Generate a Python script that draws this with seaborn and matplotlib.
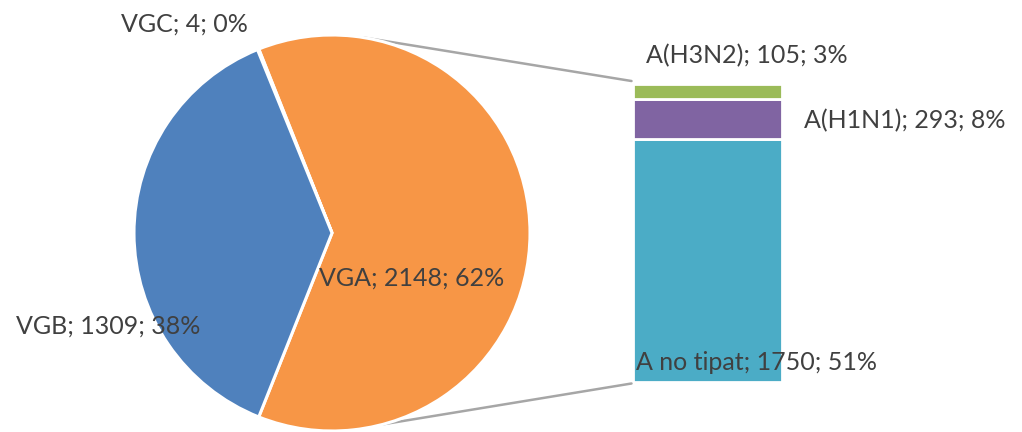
import numpy as np
import matplotlib
matplotlib.use("Agg")
import matplotlib.pyplot as plt
import seaborn as sns
from matplotlib.patches import ConnectionPatch

# Virus groups (pie) and influenza A subtypes (stacked bar)
groups = ["VGA", "VGC", "VGB"]
group_counts = [2148, 4, 1309]
subtypes = ["A no tipat", "A(H1N1)", "A(H3N2)"]
subtype_counts = [1750, 293, 105]

group_colors = ["#F79646", "#A5A5A5", "#4F81BD"]
subtype_colors = ["#4BACC6", "#8064A2", "#9BBB59"]
text_color = "#404040"
line_color = "#A6A6A6"

sns.set_theme(style="white")
plt.rcParams["font.family"] = ["Lato", "DejaVu Sans"]

W, H = 1022, 432
fig = plt.figure(figsize=(W / 100, H / 100), dpi=100)
fig.patch.set_facecolor("white")


def px_axes(x0, y0, x1, y1):
    """Axes placed by pixel box (top-left origin)."""
    return fig.add_axes([x0 / W, 1 - y1 / H, (x1 - x0) / W, (y1 - y0) / H])


grand_total = sum(group_counts)

# Pie of virus groups, VGA centred on the right-hand side
pie_ax = px_axes(134, 35, 530, 431)
start = -group_counts[0] / grand_total * 180
pie_ax.pie(group_counts, colors=group_colors, startangle=start,
           counterclock=True,
           wedgeprops=dict(edgecolor="white", linewidth=2.2))
pie_ax.set_xlim(-1, 1)
pie_ax.set_ylim(-1, 1)
pie_ax.set_aspect("equal")
pie_ax.axis("off")

# Stacked bar breaking down the VGA slice
bar_ax = px_axes(633, 84, 782, 382)
bottoms = np.concatenate([[0], np.cumsum(subtype_counts)[:-1]])
for name, val, b, c in zip(subtypes, subtype_counts, bottoms, subtype_colors):
    sns.barplot(x=["A"], y=[val], bottom=b, color=c, saturation=1,
                width=1.0, edgecolor="white", linewidth=2.0, ax=bar_ax)
bar_ax.set_xlim(-0.5, 0.5)
bar_ax.set_ylim(0, sum(subtype_counts))
bar_ax.axis("off")

# Connector lines from the pie to the bar
for ang, yb in [(81, sum(subtype_counts) * 1.01), (-75, -sum(subtype_counts) * 0.005)]:
    a = np.deg2rad(ang)
    con = ConnectionPatch(xyA=(np.cos(a), np.sin(a)), coordsA=pie_ax.transData,
                          xyB=(-0.51, yb), coordsB=bar_ax.transData,
                          color=line_color, lw=1.8, zorder=-1)
    fig.add_artist(con)


def label(name, val):
    return f"{name}; {val}; {val / grand_total * 100:.0f}%"


def px_text(x, y, s):
    fig.text(x / W, 1 - y / H, s, ha="center", va="center",
             fontsize=18, color=text_color)


group_pos = {"VGA": (412, 278), "VGC": (184, 24), "VGB": (108, 326)}
for name, val in zip(groups, group_counts):
    px_text(*group_pos[name], label(name, val))

subtype_pos = {"A no tipat": (756, 362), "A(H1N1)": (905, 121),
               "A(H3N2)": (747, 56)}
for name, val in zip(subtypes, subtype_counts):
    px_text(*subtype_pos[name], label(name, val))

fig.savefig("out.png", dpi=100, facecolor="white")
